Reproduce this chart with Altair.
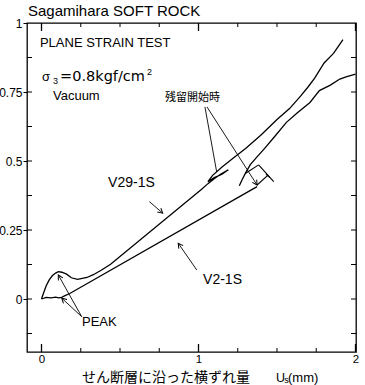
import altair as alt
import pandas as pd
import numpy as np

# ---------------- data ----------------
# V29-1S
v29_x = [0, 0.012, 0.03, 0.05, 0.07, 0.09, 0.107, 0.13, 0.16, 0.19, 0.23, 0.29, 0.33, 0.38, 0.44,
         1.02, 1.06, 1.10, 1.14, 1.19, 1.15, 1.10, 1.06, 1.09, 1.15, 1.22, 1.30, 1.40, 1.50, 1.58,
         1.65, 1.70, 1.74, 1.80, 1.86, 1.92]
v29_y = [0, 0.02, 0.048, 0.07, 0.085, 0.094, 0.099, 0.097, 0.09, 0.077, 0.071, 0.078, 0.088, 0.104, 0.126,
         0.398, 0.418, 0.436, 0.452, 0.468, 0.452, 0.44, 0.425, 0.448, 0.478, 0.51, 0.545, 0.595, 0.65, 0.69,
         0.735, 0.77, 0.80, 0.855, 0.89, 0.94]
# V2-1S up to the start of residual
v2a_x = [0, 0.03, 0.06, 0.09, 0.11, 0.128, 0.15, 0.18, 1.373]
v2a_y = [0, 0.006, 0.004, 0.007, 0.004, 0.006, 0.012, 0.02, 0.407]
# V2-1S after residual start
v2b_x = [1.26, 1.28, 1.30, 1.33, 1.37, 1.42, 1.48, 1.56, 1.63, 1.71, 1.77, 1.84, 1.90, 1.94, 2.0]
v2b_y = [0.41, 0.435, 0.457, 0.487, 0.513, 0.545, 0.585, 0.64, 0.675, 0.712, 0.755, 0.775, 0.797, 0.805, 0.815]

# bracket mark near residual start of V2-1S
br_x = [1.298, 1.383, 1.373, 1.43]
br_y = [0.455, 0.486, 0.413, 0.452]
br_x2 = [1.383, 1.479, 1.443, 1.455]
br_y2 = [0.486, 0.425, 0.449, 0.44]

# arrows: tail -> head
ar_x = [0.687, 0.989, 1.041, 1.054, 0.256, 0.256]
ar_y = [0.353, 0.105, 0.696, 0.696, -0.064, -0.064]
ar_x2 = [0.772, 0.871, 1.116, 1.373, 0.107, 0.129]
ar_y2 = [0.311, 0.202, 0.46, 0.413, 0.087, 0.003]
ar_head = [True, True, False, True, True, True]

# tick positions
x_minor = [0.25, 0.5, 0.75, 1.25, 1.5, 1.75]
x_major = [0, 1, 2]
y_labels = [0, 0.25, 0.5, 0.75, 1]
y_ticks = [-0.125, 0, 0.125, 0.25, 0.375, 0.5, 0.625, 0.75, 0.875]

# ---------------- layout ----------------
W, H = 329, 329
XD = [-0.0924, 2.0032]
YD = [-0.192, 1.0]
xs = alt.Scale(domain=XD, nice=False, zero=False)
ys = alt.Scale(domain=YD, nice=False, zero=False)
LAT = "Liberation Sans"
JP = "Noto Sans CJK JP"

xax = alt.Axis(values=x_major, labelExpr="format(datum.value, '~g')", ticks=False, domain=False, grid=False,
               labelFontSize=11.5, labelFont=LAT, labelColor="black",
               labelPadding=1, labelFlush=False, labelOverlap=False, title=None)
yax = alt.Axis(values=y_labels, labelExpr="format(datum.value, '~g')",
               tickSize=4, tickColor="black", domain=False, grid=False,
               labelFontSize=12, labelFont=LAT, labelColor="black",
               labelPadding=1, labelFlush=False, labelOverlap=False, title=None)


def X(f="x"):
    return alt.X(f + ":Q", scale=xs, axis=xax, title=None)


def Y(f="y"):
    return alt.Y(f + ":Q", scale=ys, axis=yax, title=None)


rows = []
for name, xx, yy in [("V29-1S", v29_x, v29_y), ("V2-1S a", v2a_x, v2a_y), ("V2-1S b", v2b_x, v2b_y)]:
    for i, (a, b) in enumerate(zip(xx, yy)):
        rows.append({"seg": name, "i": i, "x": a, "y": b})
df_lines = pd.DataFrame(rows)

curves = alt.Chart(df_lines).mark_line(color="black", strokeWidth=1.3).encode(
    x=X(), y=Y(), detail="seg:N", order="i:Q")

# inner ticks
tx_min = pd.DataFrame({"x": x_minor})
tx_maj = pd.DataFrame({"x": x_major})
ty = pd.DataFrame({"y": y_ticks})
ticks = [
    alt.Chart(tx_min).mark_rule(color="black", strokeWidth=1).encode(x=X(), y=alt.value(H), y2=alt.value(H - 4)),
    alt.Chart(tx_min).mark_rule(color="black", strokeWidth=1).encode(x=X(), y=alt.value(0), y2=alt.value(4)),
    alt.Chart(tx_maj).mark_rule(color="black", strokeWidth=1.3).encode(x=X(), y=alt.value(H), y2=alt.value(H - 8)),
    alt.Chart(tx_maj).mark_rule(color="black", strokeWidth=1.3).encode(x=X(), y=alt.value(0), y2=alt.value(8)),
    alt.Chart(ty).mark_rule(color="black", strokeWidth=1).encode(y=Y(), x=alt.value(0), x2=alt.value(5)),
    alt.Chart(ty).mark_rule(color="black", strokeWidth=1).encode(y=Y(), x=alt.value(W), x2=alt.value(W - 5)),
]

# annotation segments
df_br = pd.DataFrame({"x": br_x, "y": br_y, "x2": br_x2, "y2": br_y2})
bracket = alt.Chart(df_br).mark_rule(color="black", strokeWidth=1.1).encode(
    x=X(), y=Y(), x2="x2:Q", y2="y2:Q")

df_ar = pd.DataFrame({"x": ar_x, "y": ar_y, "x2": ar_x2, "y2": ar_y2, "head": ar_head})
arrows = alt.Chart(df_ar).mark_rule(color="black", strokeWidth=0.9).encode(
    x=X(), y=Y(), x2="x2:Q", y2="y2:Q")

pxu = W / (XD[1] - XD[0])
pyu = H / (YD[1] - YD[0])
dxp = (df_ar["x2"] - df_ar["x"]) * pxu
dyp = -(df_ar["y2"] - df_ar["y"]) * pyu
df_ar["ang"] = (np.degrees(np.arctan2(dxp, -dyp)) + 360) % 360
df_heads = df_ar[df_ar["head"]].copy()
heads = alt.Chart(df_heads).mark_point(
    shape="M -0.55 1 L 0 0 L 0.55 1", filled=False, stroke="black", strokeWidth=1, size=90, opacity=1
).encode(x=X("x2"), y=Y("y2"), angle=alt.Angle("ang:Q", scale=None))


# texts
def texts(labels, xx, yy, size, font=LAT):
    d = pd.DataFrame({"t": labels, "x": xx, "y": yy})
    return alt.Chart(d).mark_text(align="left", baseline="middle", fontSize=size, font=font,
                                  color="black").encode(x=X(), y=Y(), text="t:N")


t_title = texts(["Sagamihara SOFT ROCK"], [-0.086], [1.043], 15)
t_main = texts(["PLANE STRAIN TEST", "σ", "Vacuum", "PEAK", "(mm)"],
               [-0.01, 0.003, 0.073, 0.258, 1.570],
               [0.928, 0.804, 0.736, -0.083, -0.2845], 13)
t_eq = texts(["=0.8kgf/cm"], [0.118], [0.804], 14.5, "DejaVu Sans")
t_series = texts(["V29-1S", "V2-1S"], [0.424, 1.029], [0.42, 0.069], 14)
t_small = texts(["3", "2", "s"], [0.073, 0.672, 1.546], [0.79, 0.822, -0.2935], 9)
t_u = texts(["U"], [1.494], [-0.2845], 12.5)
t_jp1 = texts(["残留開始時"], [0.787], [0.728], 11, JP)
t_jp2 = texts(["せん断層に沿った横ずれ量"], [0.258], [-0.2862], 14, JP)

chart = alt.layer(
    curves, *ticks, bracket, arrows, heads,
    t_title, t_main, t_eq, t_series, t_small, t_u, t_jp1, t_jp2
).properties(
    width=W, height=H,
    autosize=alt.AutoSizeParams(type="none"),
    padding={"left": 27, "top": 23, "right": 9, "bottom": 33},
    background="white",
).configure_view(stroke="black", strokeWidth=1.3)

chart.save("out.html", embed_options={"renderer": "svg", "actions": False})
